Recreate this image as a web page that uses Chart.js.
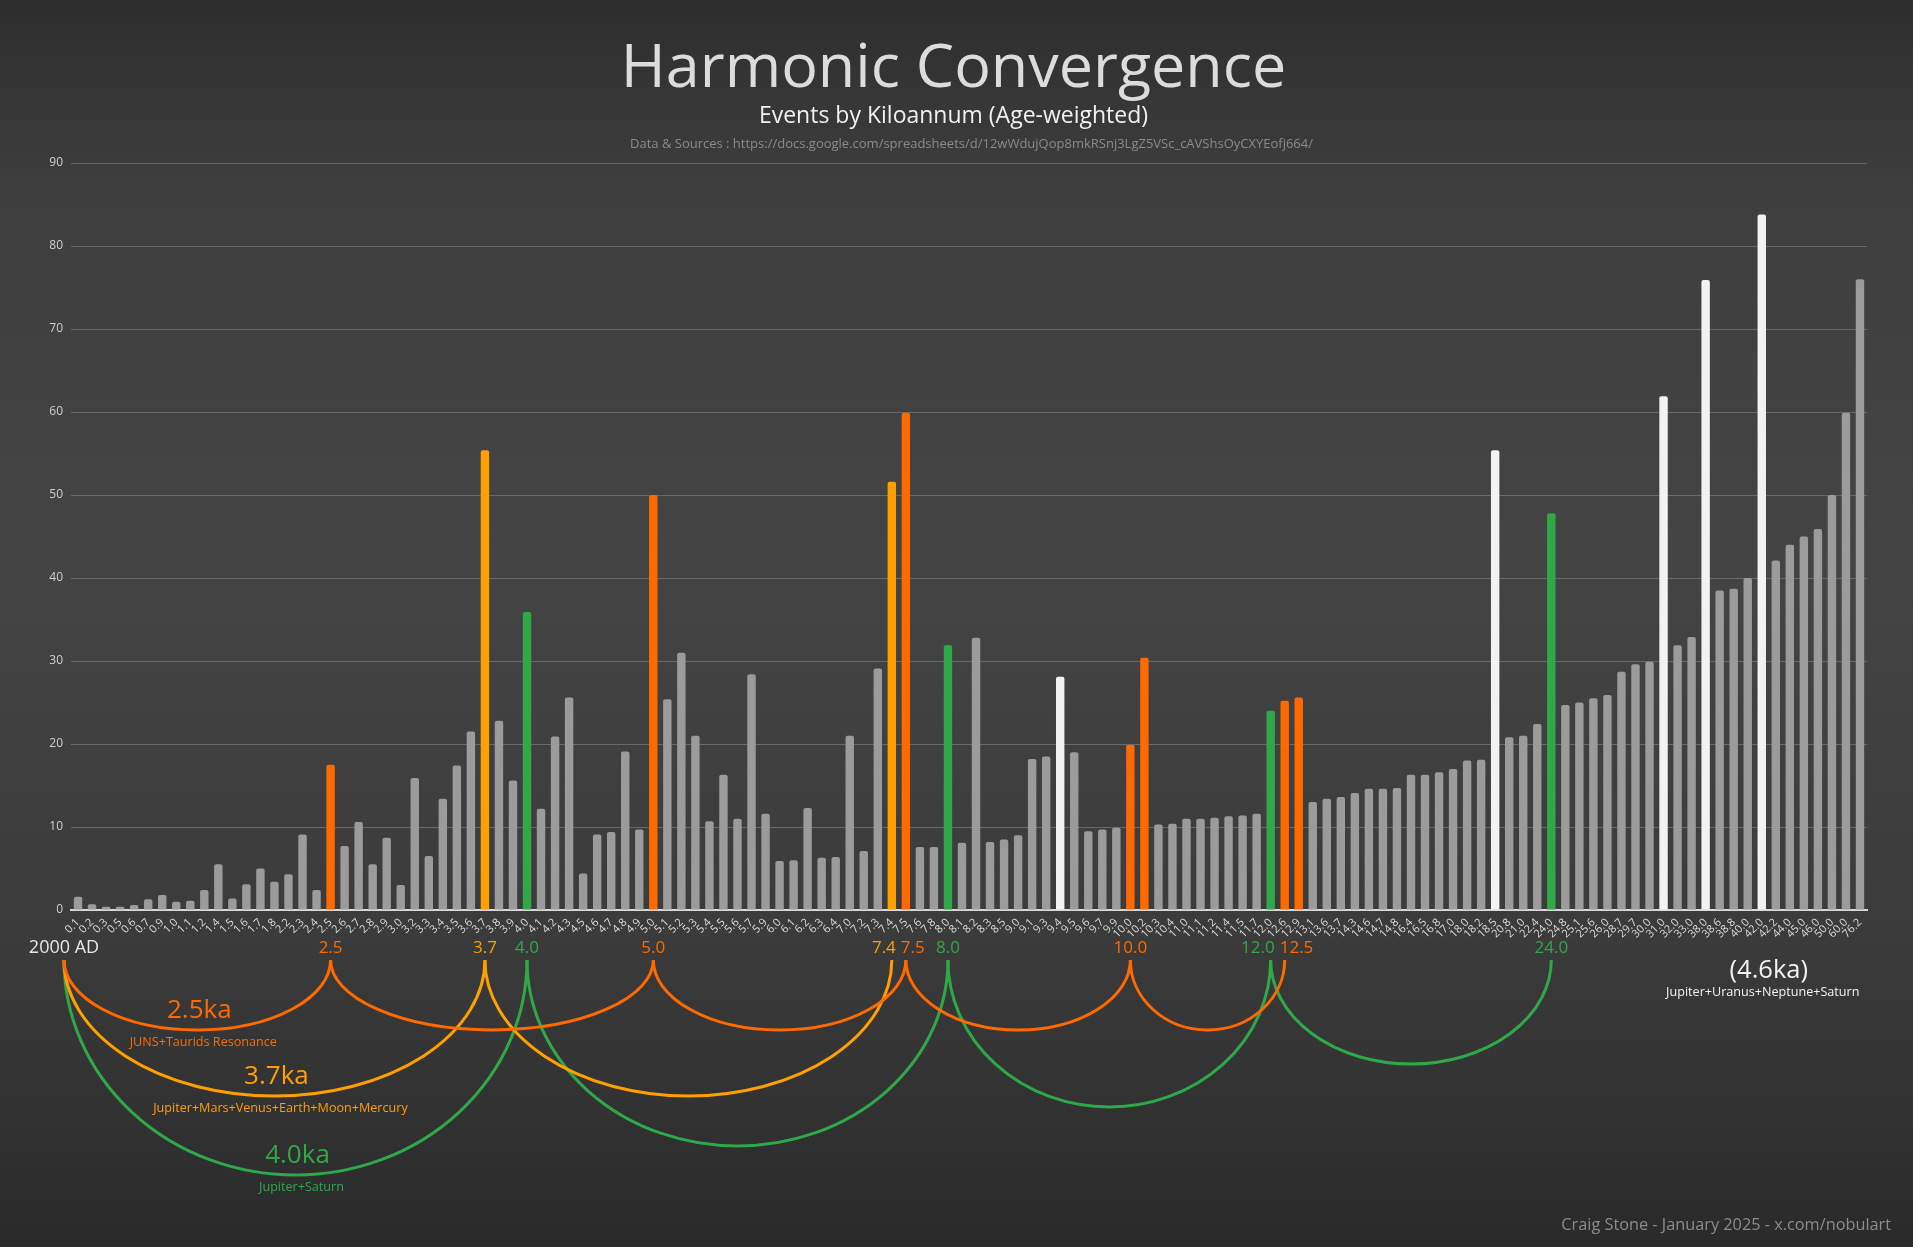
<!DOCTYPE html>
<html>
<head>
  <title>Harmonic Convergence</title>
  <script src="https://cdn.jsdelivr.net/npm/chart.js"></script>
  <style>
    html, body { margin: 0; padding: 0; background: #2c2c2c; overflow: hidden; }
    #wrap { width: 1913px; height: 1247px; position: relative; }
  </style>
</head>
<body>
  <div id="wrap"><canvas id="grafico"></canvas></div>

  <script>
    // categorias (ka) y valores
    const categorias = ['0.1','0.2','0.3','0.5','0.6','0.7','0.9','1.0','1.1','1.2','1.4','1.5','1.6','1.7','1.8','2.2','2.3','2.4','2.5','2.6',
      '2.7','2.8','2.9','3.0','3.2','3.3','3.4','3.5','3.6','3.7','3.8','3.9','4.0','4.1','4.2','4.3','4.5','4.6','4.7','4.8',
      '4.9','5.0','5.1','5.2','5.3','5.4','5.5','5.6','5.7','5.9','6.0','6.1','6.2','6.3','6.4','7.0','7.2','7.3','7.4','7.5',
      '7.6','7.8','8.0','8.1','8.2','8.3','8.5','9.0','9.1','9.3','9.4','9.5','9.6','9.7','9.9','10.0','10.2','10.3','10.4','11.0',
      '11.1','11.2','11.4','11.5','11.7','12.0','12.6','12.9','13.1','13.6','13.7','14.3','14.6','14.7','14.8','16.4','16.5','16.8','17.0','18.0',
      '18.2','18.5','20.8','21.0','22.4','24.0','24.8','25.1','25.6','26.0','28.7','29.7','30.0','31.0','32.0','33.0','38.0','38.6','38.8','40.0',
      '42.0','42.2','44.0','45.0','46.0','50.0','60.0','76.2'];
    const valores = [1.6,0.7,0.4,0.4,0.6,1.3,1.8,1.0,1.1,2.4,5.5,1.4,3.1,5.0,3.4,4.3,9.1,2.4,17.5,7.7,
      10.6,5.5,8.7,3.0,15.9,6.5,13.4,17.4,21.5,55.4,22.8,15.6,35.9,12.2,20.9,25.6,4.4,9.1,9.4,19.1,
      9.7,50.0,25.4,31.0,21.0,10.7,16.3,11.0,28.4,11.6,5.9,6.0,12.3,6.3,6.4,21.0,7.1,29.1,51.6,59.9,
      7.6,7.6,31.9,8.1,32.8,8.2,8.5,9.0,18.2,18.5,28.1,19.0,9.5,9.7,9.9,19.9,30.4,10.3,10.4,11.0,
      11.0,11.1,11.3,11.4,11.6,24.0,25.2,25.6,13.0,13.4,13.6,14.1,14.6,14.6,14.7,16.3,16.3,16.6,17.0,18.0,
      18.1,55.4,20.8,21.0,22.4,47.8,24.7,25.0,25.5,25.9,28.7,29.6,29.9,61.9,31.9,32.9,75.9,38.5,38.7,40.0,
      83.8,42.1,44.0,45.0,45.9,50.0,59.9,76.0];
    const yTicks = [0,10,20,30,40,50,60,70,80,90];

    // grupos de ciclos
    const naranja = ['2.5','5.0','7.5','10.0','10.2','12.6','12.9'];
    const ambar = ['3.7','7.4'];
    const verde = ['4.0','8.0','12.0','24.0'];
    const blanco = ['9.4','18.5','31.0','38.0','42.0'];

    // arcos: desde -> hasta (null = 2000 AD)
    const arcos25 = [[null,'2.5'],['2.5','5.0'],['5.0','7.5'],['7.5','10.0'],['10.0','12.6']];
    const arcos37 = [[null,'3.7'],['3.7','7.4']];
    const arcos40 = [[null,'4.0'],['4.0','8.0'],['8.0','12.0'],['12.0','24.0']];
    const marcas = [['2.5','2.5'],['3.7','3.7'],['4.0','4.0'],['5.0','5.0'],['7.4','7.4'],['7.5','7.5'],['8.0','8.0'],
      ['10.0','10.0'],['12.0','12.0'],['12.6','12.5'],['24.0','24.0']];

    const C = { gris: '#9b9b9b', naranja: '#ff6a00', ambar: '#ffa000', verde: '#2fa84a', blanco: '#f2f2f2' };
    const FUENTE = "'Open Sans', 'Noto Sans', sans-serif";

    function colorDe(c) {
      if (naranja.includes(c)) return C.naranja;
      if (ambar.includes(c)) return C.ambar;
      if (verde.includes(c)) return C.verde;
      if (blanco.includes(c)) return C.blanco;
      return C.gris;
    }
    function colorMarca(c) {
      if (c === '12.6') return C.naranja;
      return colorDe(c);
    }

    const fondo = {
      id: 'fondo',
      beforeDraw(chart) {
        const ctx = chart.ctx, h = chart.height;
        const g = ctx.createLinearGradient(0, 0, 0, h);
        g.addColorStop(0, '#2d2d2d');
        g.addColorStop(0.15, '#3e3e3e');
        g.addColorStop(0.45, '#444444');
        g.addColorStop(0.75, '#3b3b3b');
        g.addColorStop(1, '#2a2a2a');
        ctx.save();
        ctx.fillStyle = g;
        ctx.fillRect(0, 0, chart.width, h);
        ctx.restore();
      }
    };

    const anotaciones = {
      id: 'anotaciones',
      afterDraw(chart) {
        const ctx = chart.ctx;
        const x = chart.scales.x;
        const base = chart.chartArea.bottom;
        const paso = x.getPixelForValue(1) - x.getPixelForValue(0);
        const px = c => c === null ? x.getPixelForValue(0) - paso : x.getPixelForValue(categorias.indexOf(c));
        const yArco = base + 50;
        const yMarca = base + 38;

        ctx.save();
        // titulos
        ctx.textAlign = 'center';
        ctx.textBaseline = 'middle';
        const cx = chart.width / 2;
        ctx.fillStyle = '#dcdcdc';
        ctx.font = '61px ' + FUENTE;
        ctx.fillText('Harmonic Convergence', cx - 3, 70);
        ctx.fillStyle = '#f0f0f0';
        ctx.font = '23px ' + FUENTE;
        ctx.fillText('Events by Kiloannum (Age-weighted)', cx - 3, 116);
        ctx.fillStyle = '#8a8a8a';
        ctx.font = '13px ' + FUENTE;
        ctx.fillText('Data & Sources : https://docs.google.com/spreadsheets/d/12wWdujQop8mkRSnj3LgZ5VSc_cAVShsOyCXYEofj664/', cx + 15, 144);

        // arcos
        ctx.lineWidth = 3;
        const dibujar = (lista, color, prof) => {
          ctx.strokeStyle = color;
          lista.forEach((a, i) => {
            const x1 = px(a[0]), x2 = px(a[1]);
            ctx.beginPath();
            ctx.ellipse((x1 + x2) / 2, yArco, Math.abs(x2 - x1) / 2, prof[i], 0, 0, Math.PI);
            ctx.stroke();
          });
        };
        dibujar(arcos40, C.verde, [215, 186, 147, 104]);
        dibujar(arcos37, C.ambar, [136, 136]);
        dibujar(arcos25, C.naranja, [70, 70, 70, 70, 70]);

        // marcas sobre los arcos
        ctx.fillStyle = '#e6e6e6';
        ctx.font = '18px ' + FUENTE;
        ctx.fillText('2000 AD', px(null), yMarca);
        ctx.font = '17px ' + FUENTE;
        marcas.forEach(m => {
          const xp = px(m[0]);
          ctx.fillStyle = colorMarca(m[0]);
          if (m[1] === '7.4' || m[1] === '12.0') { ctx.textAlign = 'right'; ctx.fillText(m[1], xp + 4, yMarca); }
          else if (m[1] === '7.5' || m[1] === '12.5') { ctx.textAlign = 'left'; ctx.fillText(m[1], xp - 5, yMarca); }
          else { ctx.textAlign = 'center'; ctx.fillText(m[1], xp, yMarca); }
        });

        // etiquetas de ciclo
        ctx.textAlign = 'center';
        const etiqueta = (lista, prof, color, titulo, desc) => {
          const xm = (px(lista[0][0]) + px(lista[0][1])) / 2;
          ctx.fillStyle = color;
          ctx.font = '26px ' + FUENTE;
          ctx.fillText(titulo, xm + 2, yArco + prof - 19);
          ctx.font = '12.6px ' + FUENTE;
          ctx.fillText(desc, xm + 6, yArco + prof + 12);
        };
        etiqueta(arcos25, 70, C.naranja, '2.5ka', 'JUNS+Taurids Resonance');
        etiqueta(arcos37, 136, C.ambar, '3.7ka', 'Jupiter+Mars+Venus+Earth+Moon+Mercury');
        etiqueta(arcos40, 215, C.verde, '4.0ka', 'Jupiter+Saturn');

        const x46 = (px('42.0') + px('42.2')) / 2;
        ctx.fillStyle = '#f2f2f2';
        ctx.font = '25.5px ' + FUENTE;
        ctx.fillText('(4.6ka)', x46, base + 61);
        ctx.font = '12.6px ' + FUENTE;
        ctx.fillText('Jupiter+Uranus+Neptune+Saturn', x46 - 6, base + 82);

        // pie
        ctx.textAlign = 'right';
        ctx.fillStyle = '#8c8c8c';
        ctx.font = '16.3px ' + FUENTE;
        ctx.fillText('Craig Stone - January 2025 - x.com/nobulart', chart.width - 22, 1225);
        ctx.restore();
      }
    };

    const ctx = document.getElementById('grafico').getContext('2d');
    const chart = new Chart(ctx, {
      type: 'bar',
      data: {
        labels: categorias,
        datasets: [{
          data: valores,
          backgroundColor: categorias.map(colorDe),
          borderRadius: { topLeft: 2, topRight: 2 },
          borderSkipped: 'bottom',
          barPercentage: 0.6,
          categoryPercentage: 1.0
        }]
      },
      options: {
        responsive: true,
        maintainAspectRatio: false,
        animation: false,
        devicePixelRatio: 1,
        layout: { padding: { top: 163, left: 0, right: 46, bottom: 297 } },
        plugins: {
          legend: { display: false },
          tooltip: { enabled: false }
        },
        scales: {
          x: {
            grid: { display: false },
            border: { display: true, color: '#d8d8d8', width: 2 },
            ticks: {
              color: '#dddddd',
              font: { family: FUENTE, size: 11 },
              autoSkip: false,
              maxRotation: 45,
              minRotation: 45,
              padding: -2
            },
            afterFit: s => { s.height = 40; }
          },
          y: {
            min: 0,
            max: 90,
            afterBuildTicks: s => { s.ticks = yTicks.map(v => ({ value: v })); },
            grid: { color: '#686868', lineWidth: 1, drawTicks: false },
            border: { display: false },
            ticks: {
              color: '#d0d0d0',
              font: { family: FUENTE, size: 12 },
              padding: 8
            },
            afterFit: s => { s.width = 71; }
          }
        }
      },
      plugins: [fondo, anotaciones]
    });
  </script>
</body>
</html>
